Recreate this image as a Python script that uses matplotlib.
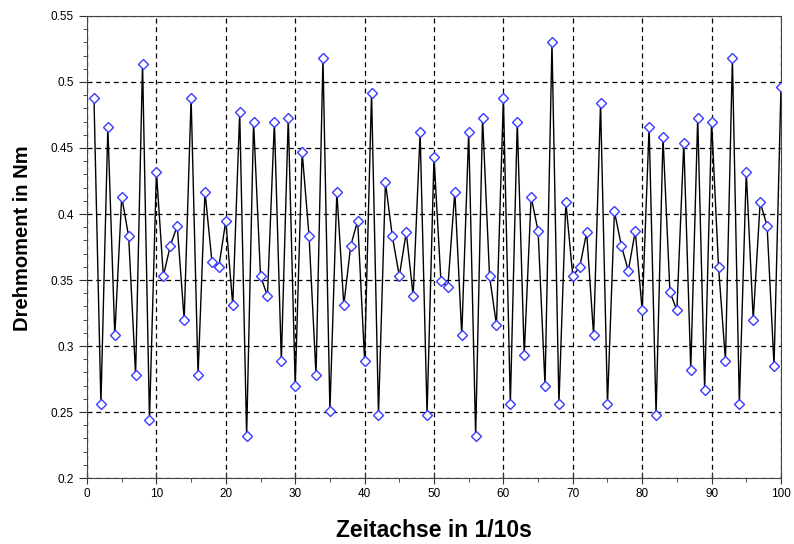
import numpy as np
import matplotlib
matplotlib.use("Agg")
import matplotlib.pyplot as plt
from matplotlib.ticker import MultipleLocator

plt.rcParams["font.family"] = ["Liberation Sans", "DejaVu Sans"]

# Data
time_steps = np.arange(1, 101)
torque = [
    0.488, 0.256, 0.466, 0.308, 0.413, 0.383, 0.278, 0.514, 0.244, 0.432,
    0.353, 0.376, 0.391, 0.320, 0.488, 0.278, 0.417, 0.364, 0.360, 0.395,
    0.331, 0.477, 0.232, 0.470, 0.353, 0.338, 0.470, 0.289, 0.473, 0.270,
    0.447, 0.383, 0.278, 0.518, 0.251, 0.417, 0.331, 0.376, 0.395, 0.289,
    0.492, 0.248, 0.424, 0.383, 0.353, 0.386, 0.338, 0.462, 0.248, 0.443,
    0.349, 0.345, 0.417, 0.308, 0.462, 0.232, 0.473, 0.353, 0.316, 0.488,
    0.256, 0.470, 0.293, 0.413, 0.387, 0.270, 0.530, 0.256, 0.409, 0.353,
    0.360, 0.386, 0.308, 0.484, 0.256, 0.402, 0.376, 0.357, 0.387, 0.327,
    0.466, 0.248, 0.458, 0.341, 0.327, 0.454, 0.282, 0.473, 0.267, 0.470,
    0.360, 0.289, 0.518, 0.256, 0.432, 0.320, 0.409, 0.391, 0.285, 0.496,
]
y_ticks = [0.2, 0.25, 0.3, 0.35, 0.4, 0.45, 0.5, 0.55]

fig = plt.figure(figsize=(7.94, 5.44), dpi=100)
ax = fig.add_axes([0.1096, 0.1213, 0.8740, 0.8493])

ax.plot(time_steps, torque, color="black", lw=1.0, zorder=3)
ax.plot(time_steps, torque, ls="none", marker="D", ms=5, mfc="white",
        mec="#3a3aff", mew=1.0, zorder=4)

ax.set_xlim(0, 100)
ax.set_ylim(0.2, 0.55)
ax.xaxis.set_major_locator(MultipleLocator(10))
ax.xaxis.set_minor_locator(MultipleLocator(5))
ax.yaxis.set_minor_locator(MultipleLocator(0.01))
ax.set_yticks(y_ticks)
ax.set_yticklabels([f"{v:g}" for v in y_ticks])

ax.grid(True, which="major", color="black", ls=(0, (4, 3)), lw=0.9, zorder=1)
ax.tick_params(which="both", direction="out", labelsize=8.5, color="#333333")
ax.tick_params(axis="x", which="major", direction="inout", length=8)
ax.tick_params(axis="y", which="major", length=6)
ax.tick_params(which="minor", length=3)
for sp in ax.spines.values():
    sp.set_color("#444444")

ax.set_xlabel("Zeitachse in 1/10s", fontsize=16.5, fontweight="bold")
ax.set_ylabel("Drehmoment in Nm", fontsize=14.5, fontweight="bold")
ax.xaxis.set_label_coords(0.5, -0.088)
ax.yaxis.set_label_coords(-0.079, 0.519)

fig.savefig("out.png", dpi=100)
